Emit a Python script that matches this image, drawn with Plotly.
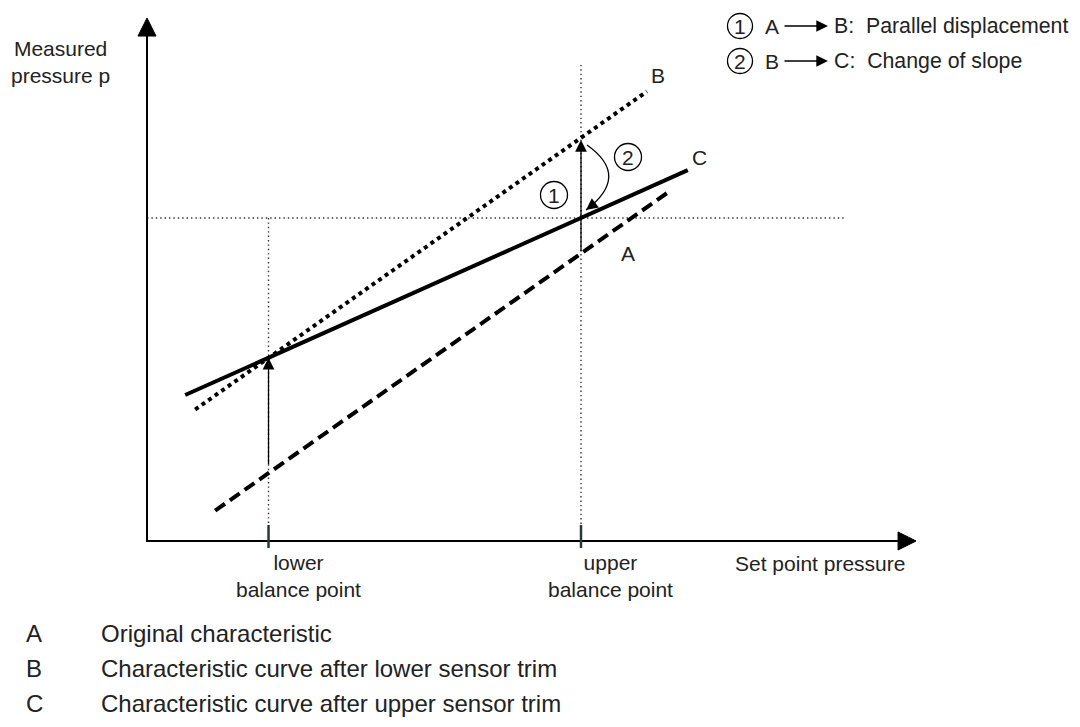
import plotly.graph_objects as go

# ---------------- data (set-point pressure vs measured pressure, arbitrary units) ----------------
lower_bp = 0.28
upper_bp = 1.00

# A: original characteristic
A_x = [0.157, 0.28, 1.00, 1.198]
A_y = [0.094, 0.21, 0.892, 1.077]
# B: after lower sensor trim (parallel displacement)
B_x = [0.111, 0.28, 1.00, 1.152]
B_y = [0.407, 0.567, 1.248, 1.392]
# C: after upper sensor trim (change of slope)
C_x = [0.088, 0.28, 1.00, 1.246]
C_y = [0.452, 0.567, 1.000, 1.148]

x_axis_end = 1.772
y_axis_end = 1.619
ref_level = 1.000          # measured value at upper balance point
ref_h_end = 1.608
upper_v_top = 1.474

curve_labels = ["A", "B", "C"]
curve_texts = ["Original characteristic",
               "Characteristic curve after lower sensor trim",
               "Characteristic curve after upper sensor trim"]
tick_texts = ["lower<br>balance point", "upper<br>balance point"]
key_rows = [("1", "A", "B", "Parallel displacement"),
            ("2", "B", "C", "Change of slope")]

# ---------------- geometry of the canvas ----------------
W, H = 1080, 727
PAGE_OFF = 8          # the html body margin shifts the figure by 8 px
X0, SX = 147, 434.0   # page pixel of x=0, pixels per unit
Y0, SY = 541, 323.0   # page pixel of y=0, pixels per unit


def dx(p):
    return (p - X0) / SX


def dy(p):
    return (Y0 - p) / SY


FONT = "Liberation Sans, Arial, sans-serif"
TXT = "#222222"
FS = 21

fig = go.Figure()

# dotted reference lines
ref_style = dict(color="#333333", width=1.4, dash="1.4px,3px")
fig.add_trace(go.Scatter(x=[0, ref_h_end], y=[ref_level, ref_level], mode="lines", line=ref_style))
fig.add_trace(go.Scatter(x=[lower_bp, lower_bp], y=[ref_level, dy(525)], mode="lines", line=ref_style))
fig.add_trace(go.Scatter(x=[upper_bp, upper_bp], y=[upper_v_top, dy(525)], mode="lines", line=ref_style))

# characteristic curves
fig.add_trace(go.Scatter(x=A_x, y=A_y, mode="lines", line=dict(color="black", width=4, dash="12px,6px")))
fig.add_trace(go.Scatter(x=B_x, y=B_y, mode="lines", line=dict(color="black", width=4, dash="4px,4px")))
fig.add_trace(go.Scatter(x=C_x, y=C_y, mode="lines", line=dict(color="black", width=4)))

# axes
fig.add_trace(go.Scatter(x=[0, 0, x_axis_end - 14 / SX], y=[y_axis_end - 14 / SY, 0, 0],
                         mode="lines", line=dict(color="black", width=2)))
# arrow heads of the axes (filled triangles)
fig.add_trace(go.Scatter(x=[0, -9 / SX, 9 / SX, 0],
                         y=[y_axis_end, y_axis_end - 18 / SY, y_axis_end - 18 / SY, y_axis_end],
                         mode="lines", fill="toself", fillcolor="black", line=dict(color="black", width=1)))
fig.add_trace(go.Scatter(x=[x_axis_end, x_axis_end - 18 / SX, x_axis_end - 18 / SX, x_axis_end],
                         y=[0, 9 / SY, -9 / SY, 0],
                         mode="lines", fill="toself", fillcolor="black", line=dict(color="black", width=1)))

# ticks at balance points
for xv in (lower_bp, upper_bp):
    fig.add_trace(go.Scatter(x=[xv, xv], y=[dy(525), dy(548)], mode="lines",
                             line=dict(color="#2b3838", width=2.5)))

ann = []
shapes = []

# arrows (1) and lower trim arrow
arrow_style = dict(showarrow=True, arrowhead=2, arrowsize=1.8, arrowwidth=1.3, arrowcolor="black",
                   axref="x", ayref="y", xref="x", yref="y", text="", standoff=0)
ann.append(dict(x=lower_bp, y=B_y[1], ax=lower_bp, ay=dy(466), **arrow_style))
ann.append(dict(x=upper_bp, y=dy(140), ax=upper_bp, ay=A_y[2], **arrow_style))

# curved arrow (2)
p0 = (dx(587), dy(145))
c = (dx(631), dy(176))
p1 = (dx(586), dy(210))
shapes.append(dict(type="path", xref="x", yref="y",
                   path=f"M {p0[0]},{p0[1]} Q {c[0]},{c[1]} {p1[0]},{p1[1]}",
                   line=dict(color="black", width=1.3)))
ann.append(dict(x=p1[0], y=p1[1], ax=p1[0] + 0.12 * (c[0] - p1[0]), ay=p1[1] + 0.12 * (c[1] - p1[1]),
                **arrow_style))


# circled numbers in the chart
def circle(cx, cy, r=13.5):
    shapes.append(dict(type="circle", xref="x", yref="y",
                       x0=dx(cx - r), x1=dx(cx + r), y0=dy(cy + r), y1=dy(cy - r),
                       line=dict(color="black", width=1.3)))


def text(px, py, s, anchor="center", size=FS):
    ann.append(dict(x=dx(px), y=dy(py), text=s, showarrow=False, xanchor=anchor, yanchor="middle",
                    font=dict(family=FONT, size=size, color=TXT), xref="x", yref="y"))


circle(554, 195)
text(554, 195, "1")
circle(628, 157)
text(628, 157, "2")

# curve labels
text(658, 75, "B")
text(699, 157, "C")
text(628, 253, "A")

# axis titles
text(9, 62, "Measured<br>pressure p", anchor="left")
text(733, 563, "Set point pressure", anchor="left")
text(234, 576, tick_texts[0], anchor="left")
text(546, 576, tick_texts[1], anchor="left")

# top-right key
for i, (num, frm, to, desc) in enumerate(key_rows):
    row_y = 26 + 35 * i
    circle(740, row_y, 12.5)
    text(740, row_y, num)
    text(763, row_y, frm, anchor="left")
    ann.append(dict(x=dx(828), y=dy(row_y), ax=dx(783), ay=dy(row_y), **arrow_style))
    text(832, row_y, f"{to}:  {desc}", anchor="left", size=21.3)

# bottom legend
for i, (lab, desc) in enumerate(zip(curve_labels, curve_texts)):
    yy = 633 + 35 * i
    text(24, yy, lab, anchor="left", size=24)
    text(99, yy, desc, anchor="left", size=24)

fig.update_layout(
    width=W, height=H,
    margin=dict(l=0, r=0, t=0, b=0),
    paper_bgcolor="white", plot_bgcolor="white",
    showlegend=False,
    xaxis=dict(range=[dx(PAGE_OFF), dx(PAGE_OFF + W)], visible=False, fixedrange=True),
    yaxis=dict(range=[dy(PAGE_OFF + H), dy(PAGE_OFF)], visible=False, fixedrange=True),
    annotations=ann, shapes=shapes,
)

fig.write_html("out.html")
